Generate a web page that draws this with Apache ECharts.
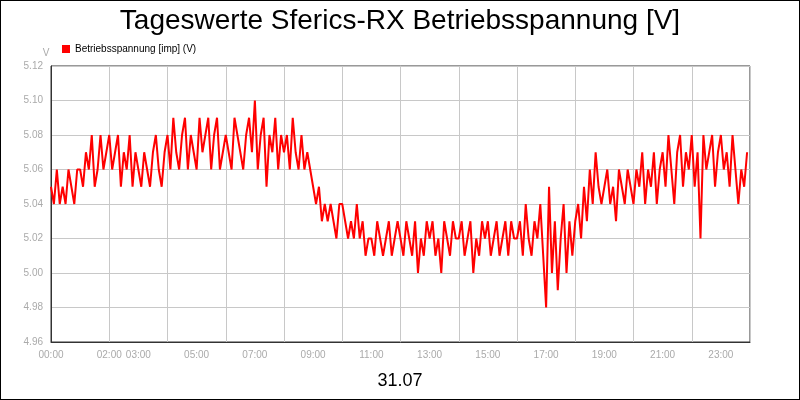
<!DOCTYPE html>
<html><head><meta charset="utf-8">
<script src="https://cdn.jsdelivr.net/npm/echarts@6/dist/echarts.min.js"></script>
<style>html,body{margin:0;padding:0;background:#fff}#c{width:798px;height:398px;border:1px solid #000}</style>
</head><body><div id="c"></div>
<script>
const hourlyValues = [
[5.05,5.04,5.06,5.04,5.05,5.04,5.06,5.05,5.04,5.06],
[5.06,5.05,5.07,5.06,5.08,5.05,5.06,5.08,5.06,5.07],
[5.08,5.06,5.07,5.08,5.05,5.07,5.06,5.08,5.05,5.07],
[5.06,5.05,5.07,5.06,5.05,5.07,5.08,5.06,5.05,5.07],
[5.08,5.06,5.09,5.07,5.06,5.08,5.09,5.06,5.08,5.07],
[5.06,5.09,5.07,5.08,5.09,5.06,5.08,5.09,5.06,5.07],
[5.08,5.07,5.06,5.09,5.08,5.07,5.06,5.08,5.09,5.07],
[5.10,5.06,5.08,5.09,5.05,5.08,5.07,5.09,5.06,5.08],
[5.07,5.08,5.06,5.09,5.07,5.06,5.08,5.06,5.07,5.06],
[5.05,5.04,5.05,5.03,5.04,5.03,5.04,5.03,5.02,5.04],
[5.04,5.03,5.02,5.03,5.02,5.04,5.02,5.03,5.01,5.02],
[5.02,5.01,5.03,5.02,5.01,5.02,5.03,5.01,5.02,5.03],
[5.02,5.01,5.03,5.02,5.01,5.03,5.00,5.02,5.01,5.03],
[5.02,5.03,5.01,5.02,5.00,5.03,5.02,5.01,5.03,5.02],
[5.02,5.03,5.01,5.02,5.03,5.00,5.02,5.01,5.03,5.02],
[5.03,5.01,5.02,5.03,5.01,5.02,5.03,5.01,5.03,5.02],
[5.02,5.03,5.01,5.04,5.02,5.01,5.03,5.02,5.04,5.01],
[4.98,5.05,5.00,5.03,4.99,5.02,5.04,5.00,5.03,5.01],
[5.03,5.04,5.02,5.05,5.03,5.06,5.04,5.07,5.05,5.04],
[5.05,5.06,5.04,5.05,5.03,5.06,5.05,5.04,5.06,5.05],
[5.04,5.06,5.05,5.07,5.04,5.06,5.05,5.07,5.04,5.06],
[5.07,5.05,5.08,5.06,5.04,5.07,5.08,5.05,5.07,5.06],
[5.08,5.05,5.07,5.02,5.08,5.06,5.07,5.08,5.05,5.07],
[5.08,5.06,5.07,5.05,5.08,5.06,5.04,5.06,5.05,5.07]
];
const labelHours = [0,2,3,5,7,9,11,13,15,17,19,21,23];
const data = [];
hourlyValues.forEach((row,h)=>row.forEach((v,k)=>data.push([h+k/10,v])));
const fmt = h => (h<10?'0':'')+h+':00';
const chart = echarts.init(document.getElementById('c'));
chart.setOption({
  animation:false,
  title:[{text:'Tageswerte Sferics-RX Betriebsspannung [V]',left:'center',top:1,textStyle:{fontFamily:'Liberation Sans',fontSize:28,fontWeight:'normal',color:'#000'}},
         {text:'31.07',left:'center',top:366,textStyle:{fontFamily:'Liberation Sans',fontSize:18,fontWeight:'normal',color:'#000'}}],
  legend:{left:56,top:38,itemWidth:8,itemHeight:8,icon:'rect',textStyle:{fontFamily:'Liberation Sans',fontSize:10,color:'#000'},data:['Betriebsspannung [imp] (V)']},
  grid:{left:50,right:49,top:65,bottom:57,show:true,borderColor:'#333',borderWidth:1,backgroundColor:'transparent'},
  xAxis:[
    {type:'value',min:0,max:24,interval:2,axisLabel:{show:false},axisTick:{show:false},axisLine:{show:false},splitLine:{lineStyle:{color:'#c8c8c8'}}},
    {type:'value',min:0,max:24,interval:1,position:'bottom',axisTick:{show:false},splitLine:{show:false},axisLine:{lineStyle:{color:'#333'}},
     axisLabel:{color:'#aaa',fontFamily:'Liberation Sans',fontSize:10,formatter:v=>labelHours.includes(v)?fmt(v):'',hideOverlap:false}}
  ],
  yAxis:{type:'value',min:4.96,max:5.12,interval:0.02,name:'V',nameGap:8,nameTextStyle:{color:'#aaa',fontSize:10,padding:[0,10,0,0]},
    axisLine:{show:true,lineStyle:{color:'#333'}},axisTick:{show:false},splitLine:{lineStyle:{color:'#c8c8c8'}},
    axisLabel:{color:'#aaa',fontFamily:'Liberation Sans',fontSize:10,formatter:v=>v.toFixed(2)}},
  series:[{name:'Betriebsspannung [imp] (V)',type:'line',xAxisIndex:1,data:data,showSymbol:false,color:'#ff0000',lineStyle:{width:2,color:'#ff0000'}}]
});
</script></body></html>
